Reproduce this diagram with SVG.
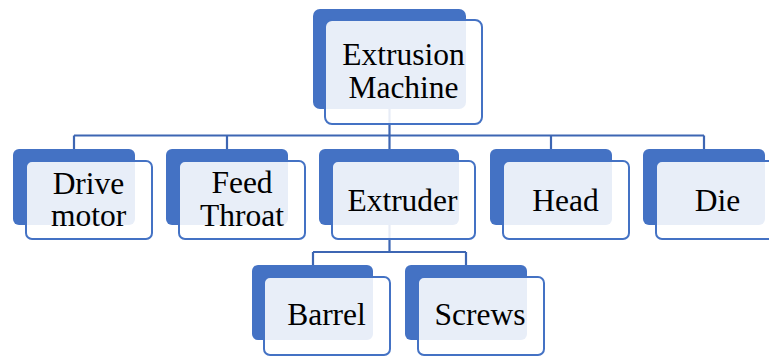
<svg xmlns="http://www.w3.org/2000/svg" width="769" height="356" viewBox="0 0 769 356">
  <style>
    .back { fill: #4472C4; }
    .front { fill: #FFFFFF; fill-opacity: 0.88; stroke: #4472C4; stroke-width: 2; }
    .label { font-family: "Liberation Serif", "Times New Roman", serif; font-size: 31.5px; fill: #000; text-anchor: middle; }
    .link { fill: none; stroke: #3D66B3; stroke-width: 2.2; }
  </style>
  <rect width="769" height="356" fill="#FFFFFF"/>

  <!-- connectors (drawn beneath the translucent front panels) -->
  <g id="connectors">
    <path class="link" d="M389.5,100 V135.5 M74,135.5 H704 M74,135.5 V150 M227,135.5 V150 M389.5,135.5 V150 M551,135.5 V150 M704,135.5 V150"/>
    <path class="link" d="M389.5,220 V252 M313,252 H466 M313,252 V266 M466,252 V266"/>
  </g>

  <g id="extrusion-machine">
    <rect class="back" x="313" y="9" width="153" height="100" rx="7"/>
    <rect class="front" x="325" y="20" width="157" height="104" rx="7"/>
    <text class="label" x="403.5" y="65">Extrusion</text>
    <text class="label" x="403.5" y="98">Machine</text>
  </g>

  <g id="drive-motor">
    <rect class="back" x="13" y="149" width="122" height="76" rx="6"/>
    <rect class="front" x="26" y="161" width="126" height="78" rx="6"/>
    <text class="label" x="88.5" y="194">Drive</text>
    <text class="label" x="88.5" y="226">motor</text>
  </g>

  <g id="feed-throat">
    <rect class="back" x="166" y="149" width="122" height="76" rx="6"/>
    <rect class="front" x="179" y="161" width="126" height="78" rx="6"/>
    <text class="label" x="242" y="193">Feed</text>
    <text class="label" x="242" y="226">Throat</text>
  </g>

  <g id="extruder">
    <rect class="back" x="319" y="149" width="140" height="76" rx="6"/>
    <rect class="front" x="332" y="161" width="143" height="78" rx="6"/>
    <text class="label" x="402.5" y="211">Extruder</text>
  </g>

  <g id="head">
    <rect class="back" x="490" y="149" width="122" height="76" rx="6"/>
    <rect class="front" x="503" y="161" width="126" height="78" rx="6"/>
    <text class="label" x="565.5" y="211">Head</text>
  </g>

  <g id="die">
    <rect class="back" x="643" y="149" width="122" height="76" rx="6"/>
    <rect class="front" x="656" y="161" width="126" height="78" rx="6"/>
    <text class="label" x="717.5" y="211">Die</text>
  </g>

  <g id="barrel">
    <rect class="back" x="252" y="265" width="121" height="75" rx="6"/>
    <rect class="front" x="264" y="277" width="126" height="78" rx="6"/>
    <text class="label" x="326.5" y="325">Barrel</text>
  </g>

  <g id="screws">
    <rect class="back" x="405" y="265" width="122" height="75" rx="6"/>
    <rect class="front" x="418" y="277" width="126" height="78" rx="6"/>
    <text class="label" x="480" y="325">Screws</text>
  </g>
</svg>
